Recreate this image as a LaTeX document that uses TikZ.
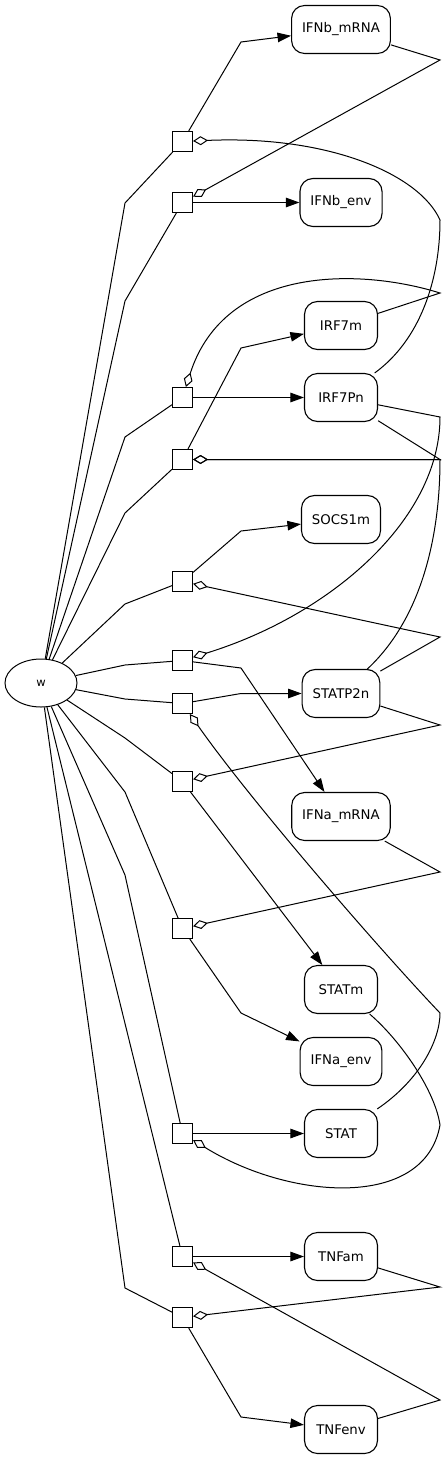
\documentclass[tikz,border=0pt]{standalone}
\usepackage{fontspec}
\setmainfont{DejaVu Sans}
\usetikzlibrary{arrows.meta,shapes.geometric}

\begin{document}
\begin{tikzpicture}[x=1pt,y=-1pt,line width=1pt,
  species/.style={draw,line width=1.1pt,rounded corners=13pt,minimum width=73pt,minimum height=48pt,inner xsep=10.5pt,font=\fontsize{13.3}{16}\selectfont},
  reac/.style={draw,line width=1.1pt,minimum size=20pt,inner sep=0pt},
  prod/.style={-{Triangle[length=13.5pt,width=9.5pt]}},
  modif/.style={-{Diamond[open,length=15pt,width=9pt]}}]
\useasboundingbox (0,0) rectangle (445,1459);
\node[draw,ellipse,minimum width=72pt,minimum height=48pt,inner sep=0pt,font=\fontsize{11.5}{13}\selectfont] (w) at (41,683) {w};
\node[species] (IFNbm) at (341,29.5) {IFNb\_mRNA};
\node[species] (IFNbenv) at (341,202.5) {IFNb\_env};
\node[species] (IRF7m) at (341,325.5) {IRF7m};
\node[species] (IRF7Pn) at (341,397.5) {IRF7Pn};
\node[species] (SOCS1m) at (341,519.5) {SOCS1m};
\node[species] (STATP2n) at (341,693.5) {STATP2n};
\node[species] (IFNam) at (341,816.5) {IFNa\_mRNA};
\node[species] (STATm) at (341,989.5) {STATm};
\node[species] (IFNaenv) at (341,1061.5) {IFNa\_env};
\node[species] (STAT) at (341,1133.5) {STAT};
\node[species] (TNFam) at (341,1256.5) {TNFam};
\node[species] (TNFenv) at (341,1429.5) {TNFenv};
\node[reac] (re1) at (182.5,141.5) {};
\node[reac] (re2) at (182.5,202.5) {};
\node[reac] (re3) at (182.5,397.5) {};
\node[reac] (re4) at (182.5,459.5) {};
\node[reac] (re5) at (182.5,581.5) {};
\node[reac] (re6) at (182.5,660.5) {};
\node[reac] (re7) at (182.5,703.5) {};
\node[reac] (re8) at (182.5,781.5) {};
\node[reac] (re9) at (182.5,928.5) {};
\node[reac] (re10) at (182.5,1133.5) {};
\node[reac] (re11) at (182.5,1256.5) {};
\node[reac] (re12) at (182.5,1317.5) {};
\foreach \r/\y in {re1/203,re2/301,re3/437,re4/513,re5/604,re6/665,re7/699,re8/738,re9/792,re10/875,re12/1288}
  \draw (w) -- (125,\y) -- (\r);
\draw (w) -- (re11);
\draw[prod] (re1) -- (241,42) -- (IFNbm);
\draw[prod] (re2) -- (IFNbenv);
\draw[prod] (re3) -- (IRF7Pn);
\draw[prod] (re4) -- (241,348) -- (IRF7m);
\draw[prod] (re5) -- (241,531) -- (SOCS1m);
\draw[prod] (re6) -- (241,668) -- (IFNam);
\draw[prod] (re7) -- (241,693.5) -- (STATP2n);
\draw[prod] (re8) -- (STATm);
\draw[prod] (re9) -- (241,1013) -- (IFNaenv);
\draw[prod] (re10) -- (STAT);
\draw[prod] (re11) -- (TNFam);
\draw[prod] (re12) -- (241,1417) -- (TNFenv);
\draw[modif] (IRF7Pn) .. controls (420,340) and (440,280) .. (440,220) .. controls (420,175) and (330,135) .. (re1);
\draw[modif] (IFNbm) -- (440,60) -- (re2);
\draw[modif] (IRF7m) -- (440,293) .. controls (360,268) and (225,265) .. (re3);
\draw[modif] (IRF7Pn) -- (440,459.5) -- (re4);
\draw[modif] (STATP2n) .. controls (420,620) and (440,540) .. (440,459.5) -- (re4);
\draw[modif] (STATP2n) -- (440,637) -- (re5);
\draw[modif] (IRF7Pn) -- (440,417) .. controls (440,520) and (330,615) .. (re6);
\draw[modif] (STAT) .. controls (420,1080) and (440,1040) .. (440,1013) .. controls (380,950) and (250,800) .. (re7);
\draw[modif] (STATP2n) -- (440,725) -- (re8);
\draw[modif] (IFNam) -- (440,872) -- (re9);
\draw[modif] (STATm) .. controls (400,1040) and (435,1090) .. (440,1125) .. controls (425,1210) and (290,1200) .. (re10);
\draw[modif] (TNFenv) -- (440,1400) -- (re11);
\draw[modif] (TNFam) -- (440,1287) -- (re12);
\end{tikzpicture}
\end{document}
